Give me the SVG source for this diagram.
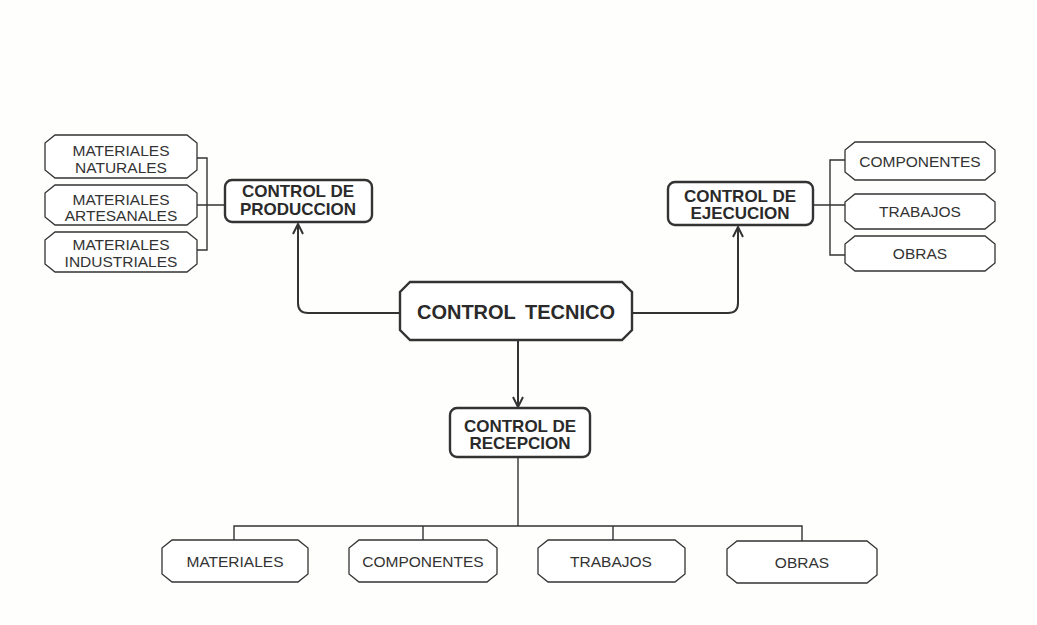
<svg xmlns="http://www.w3.org/2000/svg" width="1037" height="625" viewBox="0 0 1037 625">
<defs>
<style>
.bg{fill:#fefefd}
.box{fill:#fff;stroke:#333;stroke-width:1.3}
.main{fill:#fff;stroke:#333;stroke-width:2.4}
.ln{fill:none;stroke:#333;stroke-width:1.4}
.arr{fill:none;stroke:#333;stroke-width:2}
.t{font-family:"Liberation Sans",Arial,sans-serif;font-size:15.5px;fill:#333;text-anchor:middle}
.b{font-family:"Liberation Sans",Arial,sans-serif;font-size:17px;font-weight:bold;fill:#2a2a2a;text-anchor:middle}
.bt{font-family:"Liberation Sans",Arial,sans-serif;font-size:20px;font-weight:bold;fill:#2a2a2a;text-anchor:middle;word-spacing:4px}
</style>
<marker id="ah" viewBox="0 0 12 12" refX="11" refY="6" markerWidth="12" markerHeight="12" markerUnits="userSpaceOnUse" orient="auto">
<path d="M1,1 L11,6 L1,11" fill="none" stroke="#333" stroke-width="2"/>
</marker>
</defs>
<rect class="bg" x="0" y="0" width="1037" height="625"/>

<g id="connectors">
<path class="ln" d="M197,158 H207 V250 H197 M197,205 H225"/>
<path class="ln" d="M813,205 H845 M845,160 H830 V255 H845"/>
<path class="arr" d="M400,313 H308 Q298,313 298,303 V224" marker-end="url(#ah)"/>
<path class="arr" d="M632,313 H728 Q738,313 738,303 V227" marker-end="url(#ah)"/>
<path class="arr" d="M518,340 V407" marker-end="url(#ah)"/>
<path class="ln" d="M518,457 V526 M234,541 V526 H802 V541 M423,526 V541 M613,526 V541"/>
</g>

<g id="control-tecnico">
<path class="main" d="M410,282 H622 L632,292 V330 L622,340 H410 L400,330 V292 Z"/>
<text class="bt" x="516" y="319">CONTROL TECNICO</text>
</g>

<g id="control-produccion">
<rect class="main" x="225" y="180" width="147" height="42" rx="7"/>
<text class="b" x="298" y="197">CONTROL DE</text>
<text class="b" x="298" y="215">PRODUCCION</text>
</g>

<g id="control-ejecucion">
<rect class="main" x="668" y="182" width="145" height="43" rx="7"/>
<text class="b" x="740" y="202">CONTROL DE</text>
<text class="b" x="740" y="219">EJECUCION</text>
</g>

<g id="control-recepcion">
<rect class="main" x="450" y="408" width="140" height="49" rx="7"/>
<text class="b" x="520" y="432">CONTROL DE</text>
<text class="b" x="520" y="449">RECEPCION</text>
</g>

<g id="materiales-naturales">
<path class="box" d="M55,135 H187 L197,143 V170 L187,178 H55 L45,170 V143 Z"/>
<text class="t" x="121" y="156">MATERIALES</text>
<text class="t" x="121" y="173">NATURALES</text>
</g>
<g id="materiales-artesanales">
<path class="box" d="M55,185 H187 L197,193 V217 L187,225 H55 L45,217 V193 Z"/>
<text class="t" x="121" y="205">MATERIALES</text>
<text class="t" x="121" y="221">ARTESANALES</text>
</g>
<g id="materiales-industriales">
<path class="box" d="M55,232 H187 L197,240 V264 L187,272 H55 L45,264 V240 Z"/>
<text class="t" x="121" y="250">MATERIALES</text>
<text class="t" x="121" y="267">INDUSTRIALES</text>
</g>

<g id="ej-componentes">
<path class="box" d="M855,142 H985 L995,150 V172 L985,180 H855 L845,172 V150 Z"/>
<text class="t" x="920" y="167">COMPONENTES</text>
</g>
<g id="ej-trabajos">
<path class="box" d="M855,194 H985 L995,202 V221 L985,229 H855 L845,221 V202 Z"/>
<text class="t" x="920" y="217">TRABAJOS</text>
</g>
<g id="ej-obras">
<path class="box" d="M855,236 H985 L995,244 V263 L985,271 H855 L845,263 V244 Z"/>
<text class="t" x="920" y="259">OBRAS</text>
</g>

<g id="rec-materiales">
<path class="box" d="M172,540 H298 L308,548 V574 L298,582 H172 L162,574 V548 Z"/>
<text class="t" x="235" y="567">MATERIALES</text>
</g>
<g id="rec-componentes">
<path class="box" d="M359,540 H487 L497,548 V574 L487,582 H359 L349,574 V548 Z"/>
<text class="t" x="423" y="567">COMPONENTES</text>
</g>
<g id="rec-trabajos">
<path class="box" d="M548,540 H675 L685,548 V574 L675,582 H548 L538,574 V548 Z"/>
<text class="t" x="611" y="567">TRABAJOS</text>
</g>
<g id="rec-obras">
<path class="box" d="M737,541 H867 L877,549 V575 L867,583 H737 L727,575 V549 Z"/>
<text class="t" x="802" y="568">OBRAS</text>
</g>
</svg>
